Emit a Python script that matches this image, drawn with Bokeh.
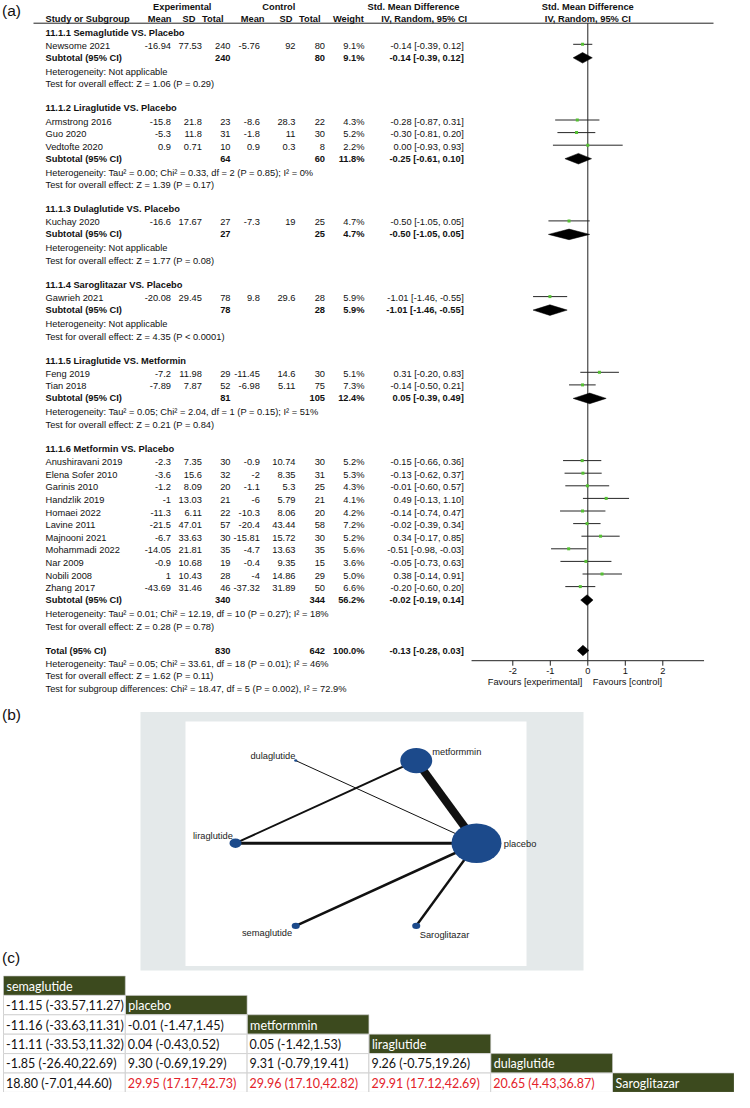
import math
from bokeh.plotting import figure
from bokeh.models import Range1d, ColumnDataSource
from bokeh.core.properties import value
from bokeh.embed import file_html
from bokeh.resources import INLINE

# ======================= DATA =======================
# (a) forest plot
group_titles = [
    "11.1.1 Semaglutide VS. Placebo",
    "11.1.2 Liraglutide VS. Placebo",
    "11.1.3 Dulaglutide VS. Placebo",
    "11.1.4 Saroglitazar VS. Placebo",
    "11.1.5 Liraglutide VS. Metformin",
    "11.1.6 Metformin VS. Placebo",
]
study_names = ["Newsome 2021", "Armstrong 2016", "Guo 2020", "Vedtofte 2020", "Kuchay 2020",
               "Gawrieh 2021", "Feng 2019", "Tian 2018", "Anushiravani 2019", "Elena Sofer 2010",
               "Garinis 2010", "Handzlik 2019", "Homaei 2022", "Lavine 2011", "Majnooni 2021",
               "Mohammadi 2022", "Nar 2009", "Nobili 2008", "Zhang 2017"]
study_group = [0, 1, 1, 1, 2, 3, 4, 4, 5, 5, 5, 5, 5, 5, 5, 5, 5, 5, 5]
exp_mean = [-16.94, -15.8, -5.3, 0.9, -16.6, -20.08, -7.2, -7.89, -2.3, -3.6, -1.2, -1, -11.3,
            -21.5, -6.7, -14.05, -0.9, 1, -43.69]
exp_sd = [77.53, 21.8, 11.8, 0.71, 17.67, 29.45, 11.98, 7.87, 7.35, 15.6, 8.09, 13.03, 6.11,
          47.01, 33.63, 21.81, 10.68, 10.43, 31.46]
exp_n = [240, 23, 31, 10, 27, 78, 29, 52, 30, 32, 20, 21, 22, 57, 30, 35, 19, 28, 46]
ctrl_mean = [-5.76, -8.6, -1.8, 0.9, -7.3, 9.8, -11.45, -6.98, -0.9, -2, -1.1, -6, -10.3,
             -20.4, -15.81, -4.7, -0.4, -4, -37.32]
ctrl_sd = [92, 28.3, 11, 0.3, 19, 29.6, 14.6, 5.11, 10.74, 8.35, 5.3, 5.79, 8.06, 43.44,
           15.72, 13.63, 9.35, 14.86, 31.89]
ctrl_n = [80, 22, 30, 8, 25, 28, 30, 75, 30, 31, 25, 21, 20, 58, 30, 35, 15, 29, 50]
weight_pct = [9.1, 4.3, 5.2, 2.2, 4.7, 5.9, 5.1, 7.3, 5.2, 5.3, 4.3, 4.1, 4.2, 7.2, 5.2, 5.6,
              3.6, 5.0, 6.6]
smd = [-0.14, -0.28, -0.30, 0.00, -0.50, -1.01, 0.31, -0.14, -0.15, -0.13, -0.01, 0.49, -0.14,
       -0.02, 0.34, -0.51, -0.05, 0.38, -0.20]
smd_lo = [-0.39, -0.87, -0.81, -0.93, -1.05, -1.46, -0.20, -0.50, -0.66, -0.62, -0.60, -0.13,
          -0.74, -0.39, -0.17, -0.98, -0.73, -0.14, -0.60]
smd_hi = [0.12, 0.31, 0.20, 0.93, 0.05, -0.55, 0.83, 0.21, 0.36, 0.37, 0.57, 1.10, 0.47, 0.34,
          0.85, -0.03, 0.63, 0.91, 0.20]

sub_exp_n = [240, 64, 27, 78, 81, 340]
sub_ctrl_n = [80, 60, 25, 28, 105, 344]
sub_weight = [9.1, 11.8, 4.7, 5.9, 12.4, 56.2]
sub_smd = [-0.14, -0.25, -0.50, -1.01, 0.05, -0.02]
sub_lo = [-0.39, -0.61, -1.05, -1.46, -0.39, -0.19]
sub_hi = [0.12, 0.10, 0.05, -0.55, 0.49, 0.14]
sub_het = [
    "Heterogeneity: Not applicable",
    "Heterogeneity: Tau\u00b2 = 0.00; Chi\u00b2 = 0.33, df = 2 (P = 0.85); I\u00b2 = 0%",
    "Heterogeneity: Not applicable",
    "Heterogeneity: Not applicable",
    "Heterogeneity: Tau\u00b2 = 0.05; Chi\u00b2 = 2.04, df = 1 (P = 0.15); I\u00b2 = 51%",
    "Heterogeneity: Tau\u00b2 = 0.01; Chi\u00b2 = 12.19, df = 10 (P = 0.27); I\u00b2 = 18%",
]
sub_test = [
    "Test for overall effect: Z = 1.06 (P = 0.29)",
    "Test for overall effect: Z = 1.39 (P = 0.17)",
    "Test for overall effect: Z = 1.77 (P = 0.08)",
    "Test for overall effect: Z = 4.35 (P < 0.0001)",
    "Test for overall effect: Z = 0.21 (P = 0.84)",
    "Test for overall effect: Z = 0.28 (P = 0.78)",
]
total_exp_n = 830
total_ctrl_n = 642
total_weight = 100.0
total_smd = -0.13
total_lo = -0.28
total_hi = 0.03
total_notes = [
    "Heterogeneity: Tau\u00b2 = 0.05; Chi\u00b2 = 33.61, df = 18 (P = 0.01); I\u00b2 = 46%",
    "Test for overall effect: Z = 1.62 (P = 0.11)",
    "Test for subgroup differences: Chi\u00b2 = 18.47, df = 5 (P = 0.002), I\u00b2 = 72.9%",
]
axis_ticks = [-2, -1, 0, 1, 2]

# (b) network plot
net_nodes = ["placebo", "metformmin", "dulaglutide", "liraglutide", "semaglutide", "Saroglitazar"]
net_node_size = [0.415, 0.265, 0.026, 0.10, 0.067, 0.067]
net_edge_from = ["placebo", "placebo", "metformmin", "placebo", "placebo", "placebo"]
net_edge_to = ["metformmin", "liraglutide", "liraglutide", "dulaglutide", "semaglutide", "Saroglitazar"]
net_edge_weight = [8.0, 3.0, 2.0, 1.0, 2.6, 2.4]

# (c) league table
league_names = ["semaglutide", "placebo", "metformmin", "liraglutide", "dulaglutide", "Saroglitazar"]
league_est = [[-11.15], [-11.16, -0.01], [-11.11, 0.04, 0.05], [-1.85, 9.30, 9.31, 9.26],
              [18.80, 29.95, 29.96, 29.91, 20.65]]
league_lo = [[-33.57], [-33.63, -1.47], [-33.53, -0.43, -1.42], [-26.40, -0.69, -0.79, -0.75],
             [-7.01, 17.17, 17.10, 17.12, 4.43]]
league_hi = [[11.27], [11.31, 1.45], [11.32, 0.52, 1.53], [22.69, 19.29, 19.41, 19.26],
             [44.60, 42.73, 42.82, 42.69, 36.87]]

# ======================= FIGURE =======================
W, H = 734, 1092
p = figure(width=W, height=H, x_range=Range1d(0, W), y_range=Range1d(H, 0),
           output_backend="svg", toolbar_location=None, min_border=0,
           x_axis_location=None, y_axis_location=None,
           background_fill_color="white", border_fill_color="white", outline_line_color=None)
p.xgrid.visible = False
p.ygrid.visible = False

SMD_X0, SMD_PX = 587.3, 37.5
NET_CX, NET_CY, NET_RX, NET_RY = 355.5, 842.7, 120.5, 95.4
p.extra_x_ranges = {
    "smd": Range1d((0 - SMD_X0) / SMD_PX, (W - SMD_X0) / SMD_PX),
    "net": Range1d((0 - NET_CX) / NET_RX, (W - NET_CX) / NET_RX),
}
p.extra_y_ranges = {"net": Range1d((NET_CY - H) / NET_RY, (NET_CY - 0) / NET_RY)}

groups = {}
FS = "9.3px"


def T(x, y, s, align="left", bold=False, size=FS, font="Liberation Sans",
      color="#111111", xr="default", yr="default", xoff=0.0):
    key = (align, bold, size, font, color, xr, yr)
    d = groups.setdefault(key, dict(x=[], y=[], text=[], xoff=[]))
    d["x"].append(x)
    d["y"].append(y)
    d["text"].append(s)
    d["xoff"].append(xoff)


def g(v):
    return f"{v:g}"


def eff(e, l, h):
    return f"{e:.2f} [{l:.2f}, {h:.2f}]"


# ---------- (a) forest plot ----------
X_NAME = 45
C_EM, C_ESD, C_EN, C_CM, C_CSD, C_CN, C_W = 170.5, 201.3, 230.0, 259.3, 295.0, 324.5, 364.0
X_EFF = 463.3

T(1.5, 9.8, "(a)", size="15.5px")
HY1, HY2, HLINE = 6.3, 18.3, 22.7
T(181.7, HY1, "Experimental", "center", True)
T(278.3, HY1, "Control", "center", True)
T(459.0, HY1, "Std. Mean Difference", "right", True)
T(0, HY1, "Std. Mean Difference", "center", True, xr="smd")
T(X_NAME, HY2, "Study or Subgroup", "left", True)
for hx, hs in [(171, "Mean"), (195, "SD"), (223, "Total"), (264, "Mean"), (292, "SD"),
               (320, "Total"), (363.3, "Weight")]:
    T(hx, HY2, hs, "right", True)
T(466.7, HY2, "IV, Random, 95% CI", "right", True)
T(0, HY2, "IV, Random, 95% CI", "center", True, xr="smd")

study_y = [0.0] * len(study_names)
sub_y = []
y = 32.0
for gi, title in enumerate(group_titles):
    T(X_NAME, y, title, "left", True)
    y += 13.3
    idx = [i for i in range(len(study_names)) if study_group[i] == gi]
    for k, i in enumerate(idx):
        if k > 0:
            y += 12.6
        study_y[i] = y
        T(X_NAME, y, study_names[i])
        T(C_EM, y, g(exp_mean[i]), "right")
        T(C_ESD, y, g(exp_sd[i]), "right")
        T(C_EN, y, g(exp_n[i]), "right")
        T(C_CM, y, g(ctrl_mean[i]), "right")
        T(C_CSD, y, g(ctrl_sd[i]), "right")
        T(C_CN, y, g(ctrl_n[i]), "right")
        T(C_W, y, f"{weight_pct[i]:.1f}%", "right")
        T(X_EFF, y, eff(smd[i], smd_lo[i], smd_hi[i]), "right")
    y += 12.0
    sub_y.append(y)
    T(X_NAME, y, "Subtotal (95% CI)", "left", True)
    T(C_EN, y, g(sub_exp_n[gi]), "right", True)
    T(C_CN, y, g(sub_ctrl_n[gi]), "right", True)
    T(C_W, y, f"{sub_weight[gi]:.1f}%", "right", True)
    T(X_EFF, y, eff(sub_smd[gi], sub_lo[gi], sub_hi[gi]), "right", True)
    y += 13.8
    T(X_NAME, y, sub_het[gi])
    y += 12.6
    T(X_NAME, y, sub_test[gi])
    y += 24.0

total_y = y
T(X_NAME, total_y, "Total (95% CI)", "left", True)
T(C_EN, total_y, g(total_exp_n), "right", True)
T(C_CN, total_y, g(total_ctrl_n), "right", True)
T(C_W, total_y, f"{total_weight:.1f}%", "right", True)
T(X_EFF, total_y, eff(total_smd, total_lo, total_hi), "right", True)
ny_ = total_y + 13.0
for note in total_notes:
    T(X_NAME, ny_, note)
    ny_ += 12.6

axis_y = total_y + 10.2

# header rule
p.segment(x0=[33], y0=[HLINE], x1=[713], y1=[HLINE], line_color="#222222", line_width=1)
# line of no effect
p.segment(x0=[0], y0=[HLINE], x1=[0], y1=[axis_y], x_range_name="smd",
          line_color="#222222", line_width=1)
# CI lines and points
ci_src = ColumnDataSource(dict(lo=smd_lo, hi=smd_hi, est=smd,
                               y=[v - 1.5 for v in study_y]))
p.segment(x0="lo", y0="y", x1="hi", y1="y", source=ci_src, x_range_name="smd",
          line_color="#262626", line_width=1)
p.scatter(x="est", y="y", source=ci_src, x_range_name="smd", marker="square", size=3,
          fill_color="#55c033", line_color=None)
# diamonds
dx, dy = [], []
HALF = 5.3
for gi in range(len(group_titles)):
    yy = sub_y[gi]
    dx.append([sub_lo[gi], sub_smd[gi], sub_hi[gi], sub_smd[gi]])
    dy.append([yy, yy - HALF, yy, yy + HALF])
dx.append([total_lo, total_smd, total_hi, total_smd])
dy.append([total_y, total_y - HALF, total_y, total_y + HALF])
p.patches(xs=dx, ys=dy, x_range_name="smd", fill_color="black", line_color="black", line_width=0.5)
# axis
p.segment(x0=[-3.1], y0=[axis_y], x1=[3.1], y1=[axis_y], x_range_name="smd",
          line_color="#222222", line_width=1)
p.segment(x0=axis_ticks, y0=[axis_y] * len(axis_ticks), x1=axis_ticks,
          y1=[axis_y + 5] * len(axis_ticks), x_range_name="smd", line_color="#222222", line_width=1)
for t in axis_ticks:
    T(t, axis_y + 10.5, str(t), "center", xr="smd")
T(0, axis_y + 21.0, "Favours [experimental]", "right", xr="smd", xoff=-5.5)
T(0, axis_y + 21.0, "Favours [control]", "left", xr="smd", xoff=5.0)

# ---------- (b) network plot ----------
T(1.5, 714, "(b)", size="15.5px")
p.quad(left=[140], right=[583], top=[711.5], bottom=[970], fill_color="#e4e9ea", line_color=None)
p.quad(left=[185], right=[526], top=[721], bottom=[965.5], fill_color="white", line_color=None)

n_nodes = len(net_nodes)
node_x = [math.cos(2 * math.pi * k / n_nodes) for k in range(n_nodes)]
node_y = [math.sin(2 * math.pi * k / n_nodes) for k in range(n_nodes)]
pos = {nm: (node_x[k], node_y[k]) for k, nm in enumerate(net_nodes)}
edge_src = ColumnDataSource(dict(
    x0=[pos[a][0] for a in net_edge_from], y0=[pos[a][1] for a in net_edge_from],
    x1=[pos[b][0] for b in net_edge_to], y1=[pos[b][1] for b in net_edge_to],
    w=net_edge_weight))
p.segment(x0="x0", y0="y0", x1="x1", y1="y1", line_width="w", source=edge_src,
          x_range_name="net", y_range_name="net", line_color="#111111")
p.ellipse(x=node_x, y=node_y, width=net_node_size, height=net_node_size,
          x_range_name="net", y_range_name="net", fill_color="#1c4a8b", line_color=None)
label_off = {  # pixel offsets (dx right, dy down) and alignment
    "placebo": (27.3, 0.6, "left"),
    "metformmin": (16.0, -9.0, "left"),
    "dulaglutide": (-0.4, -4.3, "right"),
    "liraglutide": (-2.7, -7.7, "right"),
    "semaglutide": (-3.7, 7.4, "right"),
    "Saroglitazar": (3.5, 9.0, "left"),
}
for k, nm in enumerate(net_nodes):
    ox, oy, al = label_off[nm]
    T(node_x[k] + ox / NET_RX, node_y[k] - oy / NET_RY, nm, al, size="9.3px",
      color="#222222", xr="net", yr="net")

# ---------- (c) league table ----------
T(1.5, 957, "(c)", size="15.5px")
TX0, CW = 3.0, 121.8
TY0, RH = 975.5, 19.4
hl, hr, ht, hb = [], [], [], []
for r, nm in enumerate(league_names):
    left = TX0 + r * CW
    top = TY0 + r * RH
    hl.append(left); hr.append(left + CW); ht.append(top); hb.append(top + RH)
    T(left + 3, top + RH / 2 + 0.5, nm, "left", size="12.5px", font="Lato", color="white")
p.quad(left=hl, right=hr, top=ht, bottom=hb, fill_color="#3c4a1e", line_color="#c8c8c8",
       line_width=0.6)
cl, cr, ct, cb = [], [], [], []
for r in range(1, len(league_names)):
    for c in range(r):
        e = league_est[r - 1][c]
        lo = league_lo[r - 1][c]
        hi = league_hi[r - 1][c]
        left = TX0 + c * CW
        top = TY0 + r * RH
        cl.append(left); cr.append(left + CW); ct.append(top); cb.append(top + RH)
        col = "#e3222a" if lo > 0 else "#111111"
        T(left + 2.5, top + RH / 2 + 0.5, f"{e:.2f} ({lo:.2f},{hi:.2f})", "left",
          size="12.5px", font="Lato", color=col)
p.quad(left=cl, right=cr, top=ct, bottom=cb, fill_color="white", line_color="#d2d2d2",
       line_width=1)

# ---------- texts ----------
for (al, bold, size, font, color, xr, yr), d in groups.items():
    p.text(x="x", y="y", text="text", x_offset="xoff", source=ColumnDataSource(d),
           text_align=al, text_baseline="middle", text_font=value(font),
           text_font_size=size, text_font_style="bold" if bold else "normal",
           text_color=color, x_range_name=xr, y_range_name=yr)

open("out.html", "w").write(file_html(p, INLINE))
